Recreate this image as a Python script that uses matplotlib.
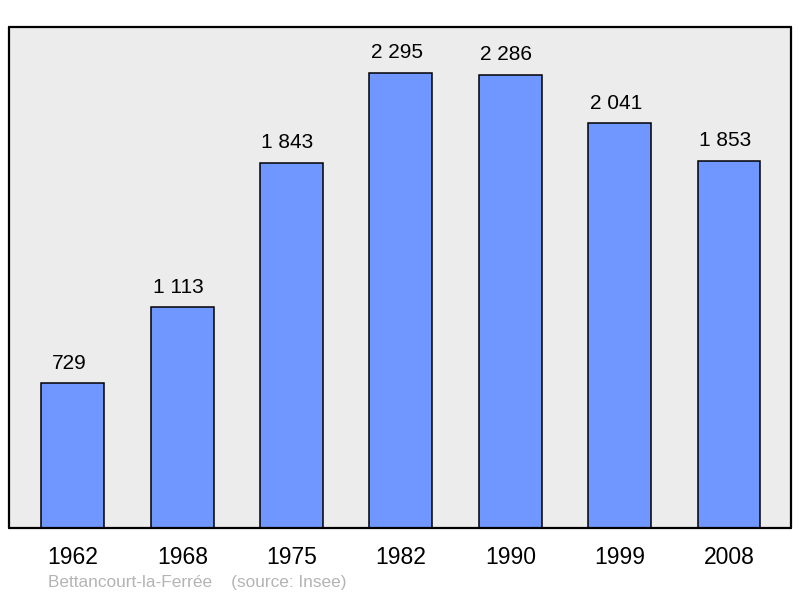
import matplotlib.pyplot as plt

plt.rcParams['font.family'] = ['Liberation Sans', 'DejaVu Sans']

# population data
years = ['1962', '1968', '1975', '1982', '1990', '1999', '2008']
population = [729, 1113, 1843, 2295, 2286, 2041, 1853]
labels = ['729', '1 113', '1 843', '2 295', '2 286', '2 041', '1 853']

fig = plt.figure(figsize=(8, 5.98), dpi=100)
ax = fig.add_axes([9/800, 70/598, 782/800, 501/598])
ax.set_facecolor('#ececec')

x = list(range(len(years)))
bars = ax.bar(x, population, width=0.576, color='#7097ff', edgecolor='black', linewidth=1.1, zorder=2)

for xi, v, lab in zip(x, population, labels):
    ax.annotate(lab, (xi, v), xytext=(-2.9, 14.6), textcoords='offset points',
                ha='center', va='center', fontsize=15, color='black')

ax.set_xlim(-0.585, 6.567)
ax.set_ylim(0, 2527)
ax.set_yticks([])
ax.set_xticks(x)
ax.set_xticklabels(years, fontsize=16.5)
ax.tick_params(axis='x', length=0, pad=13)

for s in ax.spines.values():
    s.set_linewidth(1.6)
    s.set_joinstyle('round')
    s.set_capstyle('round')

fig.text(48/800, 1 - 583/598, 'Bettancourt-la-Ferrée    (source: Insee)',
         fontsize=12.4, color='#b4b4b4', ha='left', va='center')

fig.savefig('out.png', dpi=100)
